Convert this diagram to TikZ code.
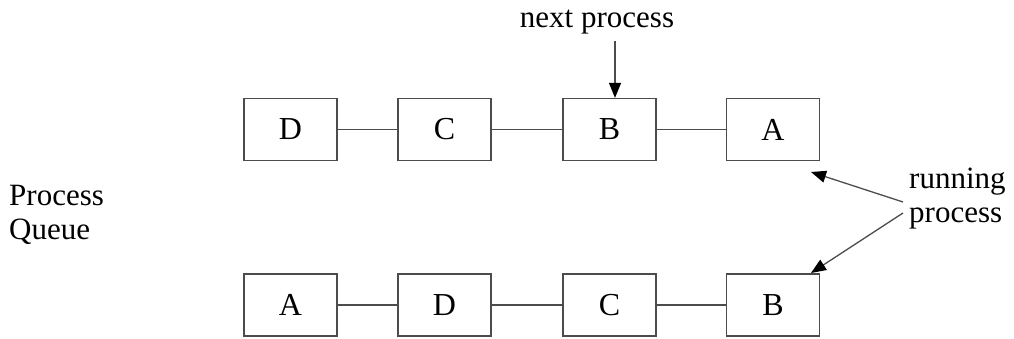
\documentclass[tikz,border=0pt]{standalone}
\usepackage{fontspec}
\setmainfont{Liberation Serif}
\usetikzlibrary{arrows.meta}
\begin{document}
\begin{tikzpicture}[x=1pt,y=-1pt,
  pbox/.style={draw=black!70,line width=1.3pt,minimum width=93pt,minimum height=62pt,inner sep=0pt,font=\fontsize{32}{36}\selectfont},
  link/.style={draw=black!70,line width=1.3pt},
  lbl/.style={font=\fontsize{31}{34}\selectfont,inner sep=0pt,align=left},
  arr/.style={draw=black!70,line width=1.3pt,-{Triangle[length=15pt,width=12pt,fill=black,color=black]}}]
\useasboundingbox (0,0) rectangle (1014,339);
\node[pbox] (d1) at (290.5,129.5) {D};
\node[pbox] (c1) at (444.5,129.5) {C};
\node[pbox] (b1) at (609.5,129.5) {B};
\node[pbox] (a1) at (773,129.5) {A};
\node[pbox] (a2) at (290.5,305) {A};
\node[pbox] (d2) at (444.5,305) {D};
\node[pbox] (c2) at (609.5,305) {C};
\node[pbox] (b2) at (773,305) {B};
\draw[link] (d1) -- (c1); \draw[link] (c1) -- (b1); \draw[link] (b1) -- (a1);
\draw[link] (a2) -- (d2); \draw[link] (d2) -- (c2); \draw[link] (c2) -- (b2);
\node[lbl,anchor=base] (np) at (597,28) {next process};
\coordinate (npt) at (615,41);
\draw[arr] (npt) -- (b1.north -| npt);
\node[lbl,anchor=west] (pq) at (9,215) {Process\\Queue};
\node[lbl,anchor=west] (rp) at (909,199) {running\\process};
\coordinate (r1) at (903,202);
\coordinate (r2) at (903,213);
\coordinate (t1) at (811,172);
\coordinate (t2) at (811,273);
\draw[arr] (r1) -- (t1);
\draw[arr] (r2) -- (t2);
\end{tikzpicture}
\end{document}
